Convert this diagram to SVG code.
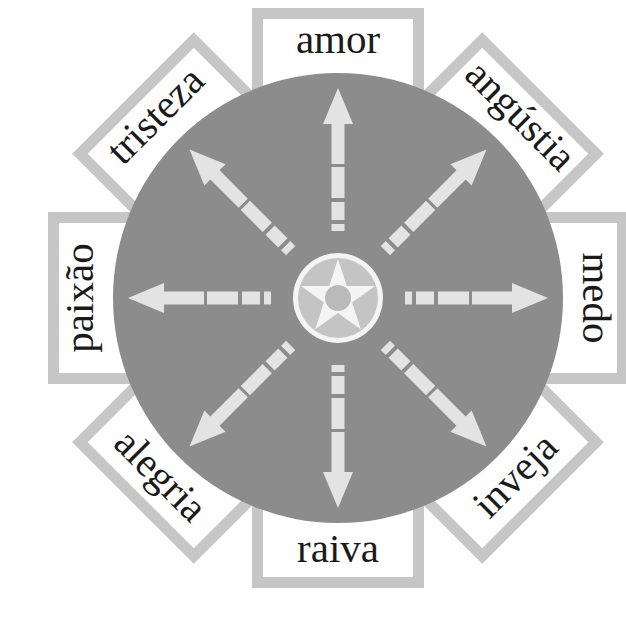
<svg xmlns="http://www.w3.org/2000/svg" xmlns:xlink="http://www.w3.org/1999/xlink" width="626" height="632" viewBox="0 0 626 632">
  <style>
    .frame { fill: #c6c6c6; }
    .inner { fill: #ffffff; }
    .lbl { font-family: "Liberation Serif", "Times New Roman", serif; font-size: 41px; fill: #1a1a1a; text-anchor: middle; }
    .arrow { fill: #e3e3e3; }
  </style>
  <defs>
    <g id="boxShape">
      <rect class="frame" x="-86" y="-290" width="172" height="150"/>
      <rect class="inner" x="-75" y="-279" width="150" height="150"/>
    </g>
    <g id="arrowShape" class="arrow">
      <polygon points="0,-210 15,-174 6.5,-174 6.5,-134 -6.5,-134 -6.5,-174 -15,-174"/>
      <rect x="-6.5" y="-131" width="13" height="31"/>
      <rect x="-6.5" y="-96" width="13" height="18"/>
      <rect x="-6.5" y="-74" width="13" height="7"/>
    </g>
  </defs>
  <rect x="0" y="0" width="626" height="632" fill="#ffffff"/>

  <g id="nodes" transform="translate(338,298)">
    <g id="amor">
      <use xlink:href="#boxShape" transform="rotate(0)"/>
      <text class="lbl" transform="rotate(0) translate(0,-245)">amor</text>
    </g>
    <g id="angustia">
      <use xlink:href="#boxShape" transform="rotate(45)"/>
      <text class="lbl" transform="rotate(45) translate(0,-245)">angústia</text>
    </g>
    <g id="medo">
      <use xlink:href="#boxShape" transform="rotate(90)"/>
      <text class="lbl" transform="rotate(90) translate(0,-245)">medo</text>
    </g>
    <g id="inveja">
      <use xlink:href="#boxShape" transform="rotate(135)"/>
      <text class="lbl" transform="rotate(-45) translate(0,264)">inveja</text>
    </g>
    <g id="raiva">
      <use xlink:href="#boxShape" transform="rotate(180)"/>
      <text class="lbl" transform="rotate(0) translate(0,264)">raiva</text>
    </g>
    <g id="alegria">
      <use xlink:href="#boxShape" transform="rotate(225)"/>
      <text class="lbl" transform="rotate(45) translate(0,264)">alegria</text>
    </g>
    <g id="paixao">
      <use xlink:href="#boxShape" transform="rotate(270)"/>
      <text class="lbl" transform="rotate(-90) translate(0,-245)">paixão</text>
    </g>
    <g id="tristeza">
      <use xlink:href="#boxShape" transform="rotate(315)"/>
      <text class="lbl" transform="rotate(-45) translate(0,-245)">tristeza</text>
    </g>
  </g>

  <g id="disc">
    <circle cx="338" cy="298" r="225" fill="#8c8c8c"/>
  </g>

  <g id="connectors" transform="translate(338,298)">
    <use xlink:href="#arrowShape" transform="rotate(0)"/>
    <use xlink:href="#arrowShape" transform="rotate(45)"/>
    <use xlink:href="#arrowShape" transform="rotate(90)"/>
    <use xlink:href="#arrowShape" transform="rotate(135)"/>
    <use xlink:href="#arrowShape" transform="rotate(180)"/>
    <use xlink:href="#arrowShape" transform="rotate(225)"/>
    <use xlink:href="#arrowShape" transform="rotate(270)"/>
    <use xlink:href="#arrowShape" transform="rotate(315)"/>
  </g>

  <g id="center" transform="translate(338,298)">
    <circle r="45" fill="#f4f4f4"/>
    <circle r="40" fill="#c4c4c4"/>
    <polygon fill="#f4f4f4" points="0,-39 8.74,-12.03 37.09,-12.05 14.15,4.6 22.92,31.55 0,14.9 -22.92,31.55 -14.15,4.6 -37.09,-12.05 -8.74,-12.03"/>
    <circle r="13" fill="#bababa"/>
  </g>
</svg>
